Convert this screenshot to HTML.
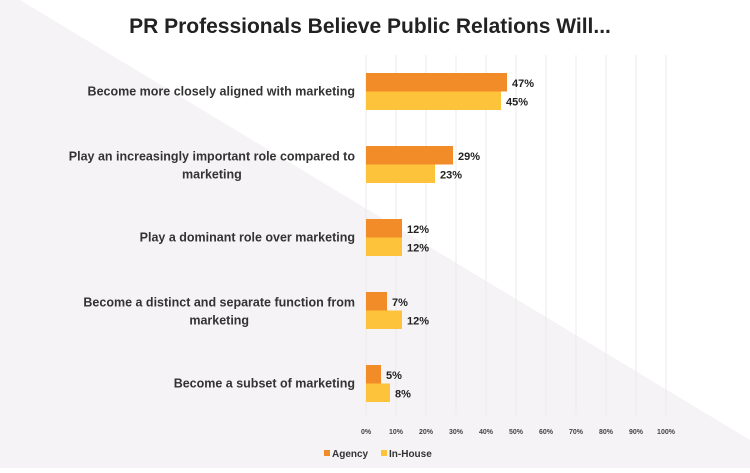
<!DOCTYPE html>
<html><head><meta charset="utf-8"><style>
body{margin:0;width:750px;height:468px;overflow:hidden;background:#fff;font-family:"Liberation Sans",sans-serif}
svg text{font-family:"Liberation Sans",sans-serif}
</style></head><body>
<svg id="c" width="750" height="468" xmlns="http://www.w3.org/2000/svg">
<polygon points="20,0 750,440 750,468 0,468 0,0" fill="#f5f3f5"/>
<text x="370" y="33" text-anchor="middle" font-size="21" font-weight="bold" fill="#222">PR Professionals Believe Public Relations Will...</text>
<g id="grid"></g><g id="bars"></g><g id="labels"></g>
<rect x="324" y="450" width="6" height="6" fill="#f28c28"/>
<text x="332" y="457" font-size="10" font-weight="bold" fill="#333">Agency</text>
<rect x="381" y="450" width="6" height="6" fill="#fdc33b"/>
<text x="389" y="457" font-size="10" font-weight="bold" fill="#333">In-House</text>
</svg>
<script>
const categories=[["Become more closely aligned with marketing"],["Play an increasingly important role compared to","marketing"],["Play a dominant role over marketing"],["Become a distinct and separate function from","marketing"],["Become a subset of marketing"]];
const agency=[47,29,12,7,5];
const inhouse=[45,23,12,12,8];
const ticks=[0,10,20,30,40,50,60,70,80,90,100];
const NS="http://www.w3.org/2000/svg";
const x0=366,xs=3,top0=73,step=73,bh=18.5;
function X(v){return x0+v*xs;}
function Y(i){return top0+i*step;}
function mk(t,a,p){const e=document.createElementNS(NS,t);for(const k in a)e.setAttribute(k,a[k]);p.appendChild(e);return e;}
const g=document.getElementById('grid'),b=document.getElementById('bars'),l=document.getElementById('labels');
ticks.forEach(t=>{
 const ln=mk('line',{x1:X(t),x2:X(t),y1:55,y2:415,stroke:'#ebebeb','stroke-width':1},g);
 
 
 const tx=mk('text',{x:X(t),y:434,'text-anchor':'middle','font-size':7,'font-weight':'bold',fill:'#444'},g);
 tx.textContent=t+'%';
 
 
});
categories.forEach((c,i)=>{
 const y=Y(i);
 const r1=mk('rect',{x:x0,y:y,width:agency[i]*xs,height:bh,fill:'#f28c28'},b);
 
 
 const r2=mk('rect',{x:x0,y:y+bh,width:inhouse[i]*xs,height:bh,fill:'#fdc33b'},b);
 
 
 const v1=mk('text',{x:X(agency[i])+5,y:y+14,'font-size':11,'font-weight':'bold',fill:'#222'},l);
 v1.textContent=agency[i]+'%';
 
 
 const v2=mk('text',{x:X(inhouse[i])+5,y:y+bh+14,'font-size':11,'font-weight':'bold',fill:'#222'},l);
 v2.textContent=inhouse[i]+'%';
 
 
 const mid=y+bh;
 let firstW=0;
 c.forEach((line,j)=>{
  let attrs;
  if(c.length===1) attrs={x:355,y:mid+4,'text-anchor':'end'};
  else if(j===0) attrs={x:355,y:mid-4,'text-anchor':'end'};
  else attrs={x:355-firstW/2,y:mid+14,'text-anchor':'middle'};
  attrs['font-size']=12.5;attrs['font-weight']='bold';attrs.fill='#333';
  const tx=mk('text',attrs,l);
  tx.textContent=line;
  
  
  if(j===0) firstW=tx.getComputedTextLength();
 });
});
</script>
</body></html>
